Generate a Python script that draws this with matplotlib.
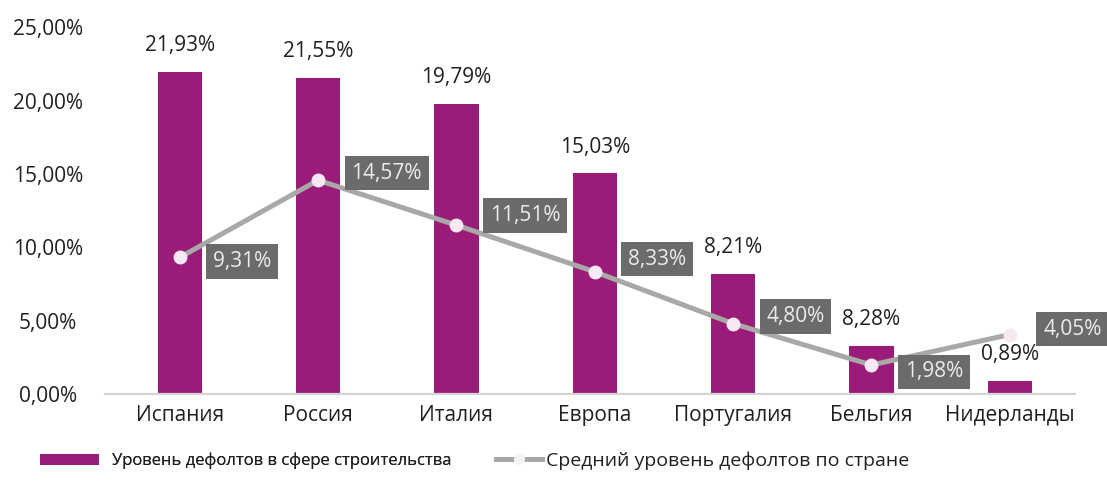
import matplotlib
matplotlib.use("Agg")
import matplotlib.pyplot as plt
from matplotlib.lines import Line2D
from matplotlib.patches import Patch

plt.rcParams['font.family'] = ['Open Sans', 'DejaVu Sans']

countries = ['Испания', 'Россия', 'Италия', 'Европа', 'Португалия', 'Бельгия', 'Нидерланды']
construction = [21.93, 21.55, 19.79, 15.03, 8.21, 3.28, 0.89]
construction_labels = ['21,93%', '21,55%', '19,79%', '15,03%', '8,21%', '8,28%', '0,89%']
country_avg = [9.31, 14.57, 11.51, 8.33, 4.80, 1.98, 4.05]
yticks = [0, 5, 10, 15, 20, 25]

BAR_C = '#9b1b78'
LINE_C = '#a8a8a8'
BOX_C = '#6b6b6b'
TXT_C = '#231f20'
FS = 15

fig = plt.figure(figsize=(11.07, 4.93), dpi=100)
ax = fig.add_axes([0.0949, 0.2008, 0.876, 0.744])

x = list(range(len(countries)))
ax.bar(x, construction, width=0.32, color=BAR_C, zorder=2)
ax.plot(x, country_avg, color=LINE_C, lw=3.6, zorder=3,
        marker='o', ms=9, mfc='#f6e9f3', mec='#f6e9f3', solid_capstyle='round')

# подписи столбцов
for xi, v, lab in zip(x, construction, construction_labels):
    ax.annotate(lab, (xi, v), xytext=(0, 19), textcoords='offset points',
                ha='center', va='center', fontsize=FS, color=TXT_C)

# подписи линии в серых плашках
box_dy = [-3, 5, 7, 9, 5, -5, 4]
for xi, v, dy in zip(x, country_avg, box_dy):
    ax.annotate(f'{v:.2f}%'.replace('.', ','), (xi, v), xytext=(24, dy),
                textcoords='offset points', ha='left', va='center',
                fontsize=FS, color='#ececec', zorder=5,
                bbox=dict(boxstyle='square,pad=0.32', fc=BOX_C, ec='none'))

ax.set_xlim(-0.54, 6.47)
ax.set_ylim(0, 25)
ax.set_yticks(yticks)
ax.set_yticklabels([f'{t},00%' for t in yticks], fontsize=FS, color=TXT_C)
for t in ax.get_yticklabels():
    t.set_ha('center')
ax.tick_params(axis='y', length=0, pad=41)
ax.set_xticks(x)
ax.set_xticklabels(countries, fontsize=FS, color=TXT_C)
ax.tick_params(axis='x', length=0, pad=8)

for s in ['top', 'right', 'left']:
    ax.spines[s].set_visible(False)
ax.spines['bottom'].set_color('#d4d4d4')
ax.spines['bottom'].set_linewidth(1.6)

leg1 = fig.legend([Patch(fc=BAR_C, ec='none')], ['Уровень дефолтов в сфере строительства'],
                  loc='center left', bbox_to_anchor=(32 / 1107, 0.065), frameon=False,
                  fontsize=12, borderpad=0, handlelength=3.5, handleheight=0.6,
                  handletextpad=0.8, labelcolor=TXT_C)
leg2 = fig.legend([Line2D([], [], color=LINE_C, lw=3.6, marker='o', ms=7,
                          mfc='#f4f4f4', mec='#f4f4f4')],
                  ['Средний уровень дефолтов по стране'],
                  loc='center left', bbox_to_anchor=(486 / 1107, 0.065), frameon=False,
                  fontsize=14, borderpad=0, handlelength=2.4,
                  handletextpad=0.2, labelcolor=TXT_C)
fig.add_artist(leg1)

fig.savefig('out.png', dpi=100)
